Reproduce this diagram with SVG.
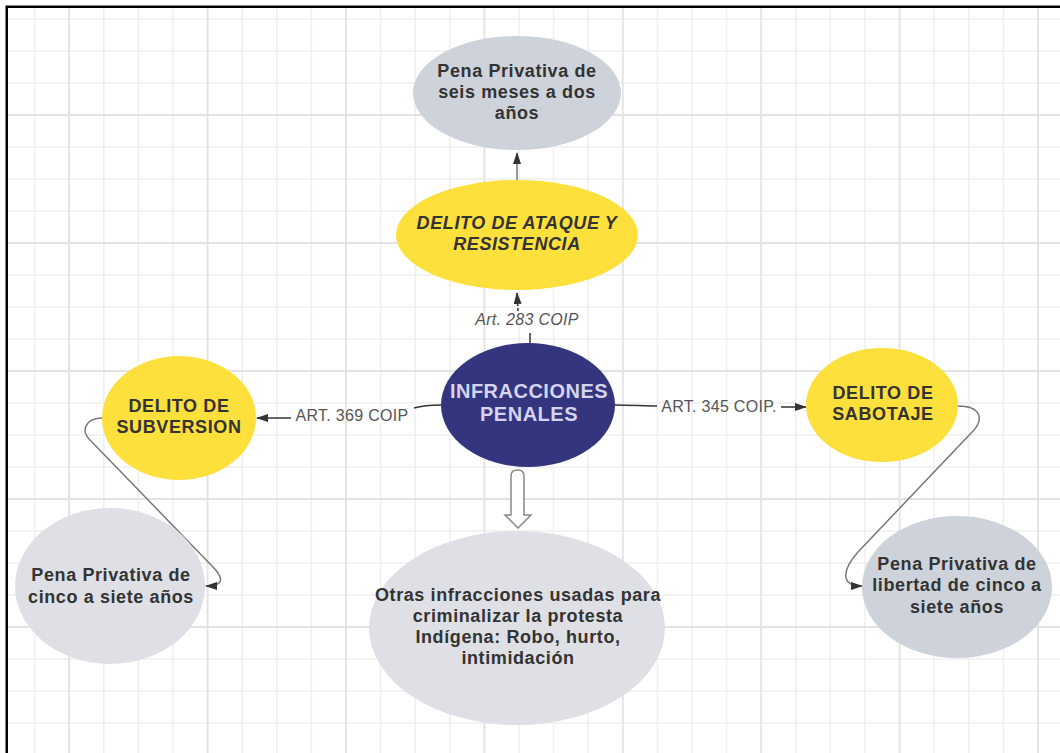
<svg xmlns="http://www.w3.org/2000/svg" width="1060" height="753" viewBox="0 0 1060 753">
<defs>
<style>
.t{fill:#333;font-family:"Liberation Sans",Arial,sans-serif;font-weight:bold;font-size:18px;letter-spacing:0.6px;text-anchor:middle}
.it{font-style:italic}
.nv{fill:#d4d4ee;font-size:20px;letter-spacing:0.5px}
.lbl{fill:#555;font-family:"Liberation Sans",Arial,sans-serif;font-size:16px;letter-spacing:0.3px;text-anchor:middle}
.minor{stroke:#efefef;stroke-width:1.5;fill:none}
.major{stroke:#e2e2e2;stroke-width:1.8;fill:none}
.con{fill:none;stroke:#333;stroke-width:1.5}
.cur{fill:none;stroke:#777;stroke-width:1.5}
.yel{fill:#fde03c}
.gl{fill:#dee0e5}
.gd{fill:#ced3db}
</style>
<marker id="ah" markerUnits="userSpaceOnUse" markerWidth="12" markerHeight="8" refX="11" refY="4" orient="auto">
<path d="M0,0 L12,4 L0,8 Z" fill="#333"/>
</marker>
</defs>
<rect width="1060" height="753" fill="#fff"/>
<g id="grid">
<path class="minor" d="M34.6,8V753M103.8,8V753M138.4,8V753M173,8V753M242.2,8V753M276.8,8V753M311.4,8V753M380.6,8V753M415.2,8V753M449.8,8V753M519,8V753M553.6,8V753M588.2,8V753M657.4,8V753M692,8V753M726.6,8V753M795.8,8V753M830.4,8V753M865,8V753M934.2,8V753M968.8,8V753M1003.4,8V753M8,19H1060M8,51H1060M8,83H1060M8,147H1060M8,179H1060M8,211H1060M8,275H1060M8,307H1060M8,339H1060M8,403H1060M8,435H1060M8,467H1060M8,531H1060M8,563H1060M8,595H1060M8,659H1060M8,691H1060M8,723H1060"/>
<path class="major" d="M69.2,8V753M207.6,8V753M346,8V753M484.4,8V753M622.8,8V753M761.2,8V753M899.6,8V753M1038,8V753M8,115H1060M8,243H1060M8,371H1060M8,499H1060M8,627H1060"/>
<path d="M6.75,753V6.75H1060" fill="none" stroke="#000" stroke-width="2.5"/>
</g>
<g id="connectors">
<path class="cur" d="M517,180V153" marker-end="url(#ah)"/>
<path class="con" d="M530,343V333"/>
<path class="con" d="M518,311L517,293" stroke-dasharray="3,2" marker-end="url(#ah)"/>
<text class="lbl it" x="527" y="325">Art. 283 COIP</text>
<path class="con" d="M441,405C428,405 421,406 414,408"/>
<path class="con" d="M291,418H257" marker-end="url(#ah)"/>
<text class="lbl" x="352" y="421">ART. 369 COIP</text>
<path class="con" d="M614,405C630,405 645,406 657,406"/>
<path class="con" d="M781,407H806" marker-end="url(#ah)"/>
<text class="lbl" x="719" y="412">ART. 345 COIP.</text>
<path class="cur" d="M103,418C84,418 80,432 92,442L212,566C226,580 222,586 206,586" marker-end="url(#ah)"/>
<path class="cur" d="M958,406C980,406 984,418 974,430L858,552C842,570 840,586 862,586" marker-end="url(#ah)"/>
<path d="M511,476Q511,470 517.5,470Q524,470 524,476L524,515L531,515L518,528L505,515L511,515Z" fill="#fff" stroke="#888" stroke-width="1.5"/>
</g>
<g id="n_pena_top">
<ellipse class="gd" cx="517" cy="93" rx="104" ry="57"/>
<text class="t" x="517" y="77">Pena Privativa de</text>
<text class="t" x="517" y="98">seis meses a dos</text>
<text class="t" x="517" y="119">años</text>
</g>
<g id="n_ataque">
<ellipse class="yel" cx="517" cy="235" rx="121" ry="55"/>
<text class="t it" x="517" y="229">DELITO DE ATAQUE Y</text>
<text class="t it" x="517" y="250">RESISTENCIA</text>
</g>
<g id="n_infracciones">
<ellipse fill="#33357f" cx="528" cy="405" rx="87" ry="62"/>
<text class="t nv" x="529" y="398">INFRACCIONES</text>
<text class="t nv" x="529" y="421">PENALES</text>
</g>
<g id="n_subversion">
<ellipse class="yel" cx="179" cy="418" rx="77" ry="62"/>
<text class="t" x="179" y="412">DELITO DE</text>
<text class="t" x="179" y="433">SUBVERSION</text>
</g>
<g id="n_sabotaje">
<ellipse class="yel" cx="882" cy="405" rx="76" ry="57"/>
<text class="t" x="883" y="399">DELITO DE</text>
<text class="t" x="883" y="420">SABOTAJE</text>
</g>
<g id="n_pena_left">
<ellipse class="gl" cx="110" cy="586" rx="95" ry="78"/>
<text class="t" x="111" y="581">Pena Privativa de</text>
<text class="t" x="111" y="603">cinco a siete años</text>
</g>
<g id="n_pena_right">
<ellipse class="gd" cx="957" cy="587" rx="95" ry="71"/>
<text class="t" x="957" y="570">Pena Privativa de</text>
<text class="t" x="957" y="591">libertad de cinco a</text>
<text class="t" x="957" y="613">siete años</text>
</g>
<g id="n_otras">
<ellipse class="gl" cx="517" cy="628" rx="148" ry="97"/>
<text class="t" x="518" y="601">Otras infracciones usadas para</text>
<text class="t" x="518" y="622">criminalizar la protesta</text>
<text class="t" x="518" y="643">Indígena: Robo, hurto,</text>
<text class="t" x="518" y="664">intimidación</text>
</g>
</svg>
